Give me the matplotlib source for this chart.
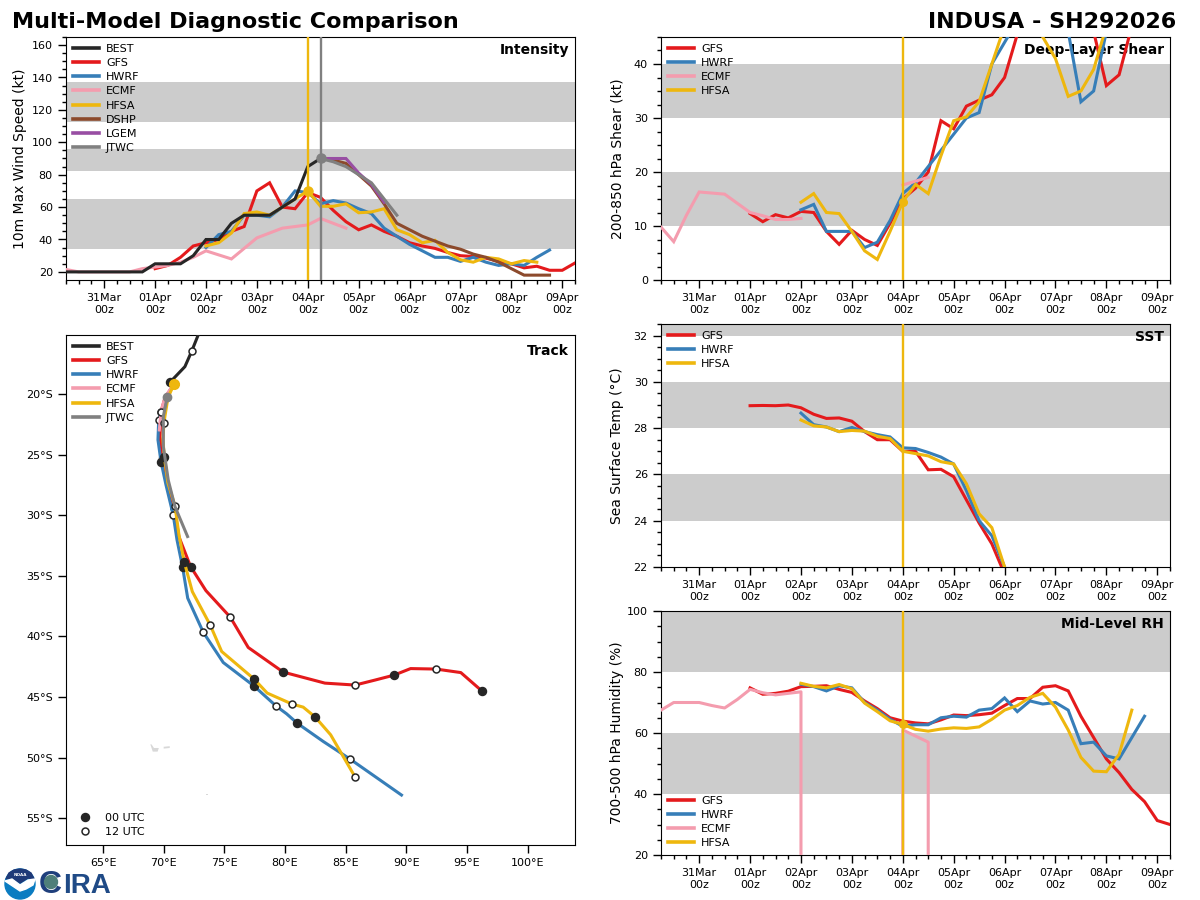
import numpy as np
import matplotlib
matplotlib.use("Agg")
import matplotlib.pyplot as plt
from matplotlib.patches import Circle, Polygon

# -------- Time axis (6-hourly steps, step 0 = 30Mar 06z) --------
day_labels = ['31Mar', '01Apr', '02Apr', '03Apr', '04Apr', '05Apr', '06Apr', '07Apr', '08Apr', '09Apr']
day_steps = [3, 7, 11, 15, 19, 23, 27, 31, 35, 39]
init_step = 19
jtwc_step = 20

# -------- Intensity (kt) --------
vmax_best = [20, 20, 20, 20, 20, 20, 20, 25, 25, 25, 30, 40, 40, 50, 55, 55, 55, 60, 65, 85, 90]
vmax_gfs = [22, 24, 29, 36, 38, 40, 45, 48, 70, 75, 60, 59, 69, 66, 58, 51, 46, 49, 45, 42, 38, 36,
            34.5, 32, 30, 29.5, 28.5, 26.5, 25, 22.5, 23.5, 21, 21, 25.5]
vmax_hwrf = [35, 43, 45, 55, 55, 54, 60, 70, 69, 62, 64, 62.5, 59, 56, 47, 42, 37, 33, 29, 29, 26.5,
             29, 26, 24, 25, 24, 29, 33.5]
vmax_ecmf = [21.5, 20, 20, 20, 20, 20, 22, 23, 24, 26, 29, 33, 30.5, 28, 34.5, 41, 44, 47, 48, 49, 53, 50, 47]
vmax_hfsa = [36, 38, 44, 56, 57, 55, 60, 65, 70, 60.5, 60.5, 62, 56.5, 57, 59, 46, 43, 38, 39.5, 32,
             27.5, 26, 29, 28, 25, 27, 26]
vmax_dshp = [90, 89, 87, 80, 73, 62, 50, 46, 42, 39, 36, 34, 31, 29, 26, 22, 18, 18, 18]
vmax_lgem = [90, 90, 90, 81, 74, 63]
vmax_jtwc = [90, 88, 85, 80, 75, 65, 55]

# -------- Deep-layer shear (kt) --------
shear_gfs = [12.3, 10.8, 12.1, 11.5, 12.7, 12.5, 9, 6.6, 9.2, 7.5, 6.4, 10.5, 15, 17, 20, 29.5, 28,
             32.2, 33.3, 34.3, 37.5, 45.5, 50, 52, 52, 52, 52, 46, 36, 38, 47, 52, 52, 47, 41.5]
shear_hwrf = [13, 14, 9, 9, 9, 6, 7, 11, 16, 18, 21, 24, 27, 30, 31, 40, 44, 48, 52, 52, 50, 46, 33, 35, 46, 50, 52, 52]
shear_ecmf = [9.8, 7.1, 12, 16.3, 16.1, 15.9, 14.2, 12.5, 11.9, 11.2, 11.2, 11.4,
              np.nan, np.nan, np.nan, np.nan, np.nan, np.nan, np.nan, 17.6, 18.3, 19.0]
shear_hfsa = [14.4, 16, 12.5, 12.3, 9, 5.4, 3.8, 9, 14.5, 17.7, 16, 23, 29.5, 30.2, 33, 40, 47, 50, 50, 45,
              41, 34, 35, 39, 47, 50, 50]

# -------- SST (C) --------
sst_gfs = [28.97, 28.98, 28.97, 29.0, 28.88, 28.6, 28.42, 28.44, 28.3, 27.85, 27.5, 27.5, 27.0, 27.0,
           26.2, 26.22, 25.9, 24.9, 23.9, 23.0, 21.7]
sst_hwrf = [28.65, 28.15, 28.05, 27.85, 28.03, 27.85, 27.72, 27.62, 27.15, 27.12, 26.95, 26.75, 26.45,
            25.3, 24.0, 23.35, 22.0]
sst_hfsa = [28.35, 28.1, 28.05, 27.85, 27.9, 27.87, 27.65, 27.55, 27.0, 26.9, 26.8, 26.55, 26.45,
            25.6, 24.3, 23.7, 22.0]

# -------- Mid-level RH (%) --------
rh_gfs = [74.8, 72.7, 73, 73.7, 75.2, 75.3, 75.5, 74.3, 73.3, 70.5, 68, 65, 63.9, 63.3, 63, 64.3, 65.9,
          65.7, 66, 66.5, 69, 71.3, 71.3, 75, 75.5, 73.8, 65.5, 58.5, 51.5, 47, 41.5, 37.5, 31.3, 30]
rh_hwrf = [76, 75.2, 73.8, 75.5, 74.8, 70, 67.5, 64.5, 62.2, 62.7, 62.7, 65, 65.5, 65.2, 67.5, 68, 71.5,
           67, 70.5, 69.5, 70, 67.5, 56.5, 57, 52.5, 51.5, 58.5, 65.5]
rh_ecmf_t = [0, 1, 2, 3, 4, 5, 6, 7, 8, 9, 10, 11, 11, np.nan, 19, 19, 20, 21, 21]
rh_ecmf = [67.5, 70, 70, 70, 69, 68.2, 71, 74.3, 73.2, 72.5, 73, 73.5, 0, np.nan, 0, 61, 59, 57, 0]
rh_hfsa = [76.3, 75.3, 74.8, 75.9, 74.5, 69.8, 67, 64, 62.8, 61.2, 60.6, 61.3, 61.7, 61.5, 62, 64.5, 67.5,
           69, 71.7, 73, 68.5, 61, 52, 47.5, 47.3, 53, 67.5]

# -------- Track (lon E, lat), forecast tracks are 6-hourly from 04Apr 00z --------
best_lon = [73.5, 72.3, 71.75, 70.52, 70.85]
best_lat = [-13.5, -16.5, -17.75, -19.04, -19.18]
gfs_lon = [70.85, 70.11, 69.78, 69.70, 69.94, 70.27, 70.85, 71.26, 72.22, 73.48, 75.49, 76.97, 79.85,
           83.29, 85.78, 87.41, 88.99, 90.35, 92.45, 94.49, 96.24]
gfs_lat = [-19.18, -20.33, -21.46, -23.54, -25.28, -27.34, -29.40, -31.79, -34.24, -36.22, -38.41, -40.91,
           -42.94, -43.85, -44.01, -43.60, -43.19, -42.65, -42.69, -42.98, -44.51]
hwrf_lon = [70.85, 70.35, 69.59, 69.53, 69.78, 70.19, 70.79, 71.10, 71.56, 71.98, 73.26, 74.91, 77.46,
            78.34, 79.28, 80.13, 81.00, 83.15, 85.37, 89.60]
hwrf_lat = [-19.18, -20.08, -22.14, -23.79, -25.58, -27.50, -30.00, -32.04, -34.29, -36.84, -39.65, -42.15,
            -44.10, -44.90, -45.75, -46.38, -47.15, -48.66, -50.12, -53.08]
ecmf_lon = [70.85, 70.11, 69.78, 69.64]
ecmf_lat = [-19.18, -20.25, -21.46, -22.97]
hfsa_lon = [70.85, 70.35, 70.02, 69.94, 70.05, 70.35, 70.93, 71.26, 71.70, 72.36, 73.84, 74.78, 77.46,
            78.53, 80.59, 81.50, 82.49, 83.76, 85.78]
hfsa_lat = [-19.18, -20.33, -22.37, -23.79, -25.17, -27.34, -29.23, -31.62, -33.87, -36.30, -39.07, -41.24,
            -43.52, -44.67, -45.58, -45.83, -46.65, -48.11, -51.60]
jtwc_lon = [70.30, 69.97, 69.97, 70.38, 70.93, 71.97]
jtwc_lat = [-20.22, -21.87, -24.34, -27.12, -29.29, -31.76]

# small islands near the bottom of the map
kerguelen_lon = [68.9, 69.1, 69.5, 69.6, 69.2, 69.0]
kerguelen_lat = [-48.9, -49.5, -49.5, -49.2, -49.2, -48.9]
crozet_lon = [70.0, 70.5, 70.5, 70.0]
crozet_lat = [-49.1, -49.05, -49.2, -49.25]
heard_lon = [73.5, 73.65, 73.65, 73.5]
heard_lat = [-53.0, -53.0, -53.1, -53.1]

# -------- Style --------
c_best = '#262626'
c_gfs = '#e41a1c'
c_hwrf = '#377eb8'
c_ecmf = '#f49cae'
c_hfsa = '#eeb70e'
c_dshp = '#8c4a2c'
c_lgem = '#984ea3'
c_jtwc = '#808080'
band_color = '#cccccc'
lw = 2.2

plt.rcParams['font.family'] = 'DejaVu Sans'
fig = plt.figure(figsize=(12, 9), dpi=100)


def make_axes(left, top, right, bottom):
    return fig.add_axes([left / 1200, 1 - bottom / 900, (right - left) / 1200, (bottom - top) / 900])


def add_legend(ax, handles=None, labels=None, loc='upper left'):
    if handles is None:
        handles, labels = ax.get_legend_handles_labels()
    leg = ax.legend(handles, labels, loc=loc, frameon=False, fontsize=8, handlelength=2.35,
                    handletextpad=0.65, labelspacing=0.38, borderaxespad=0.5, borderpad=0.1)
    for line in leg.get_lines():
        line.set_linewidth(2.6)
    return leg


def series_panel(ax, ylim, major, minor_step, bands, ylabel, title, label_x):
    ax.set_xlim(0, 40)
    ax.set_ylim(*ylim)
    for lo, hi in bands:
        ax.axhspan(lo, hi, color=band_color, lw=0, zorder=0)
    ax.set_xticks(day_steps)
    ax.set_xticks(np.arange(0, 41), minor=True)
    ax.set_xticklabels([d + '\n00z' for d in day_labels])
    ax.set_yticks(major)
    ax.set_yticks(np.arange(major[0], ylim[1] + 0.01, minor_step), minor=True)
    ax.tick_params(labelsize=8, length=6, width=1)
    ax.tick_params(which='minor', length=3, width=1)
    ax.set_ylabel(ylabel, fontsize=10)
    ax.yaxis.set_label_coords(label_x, 0.5)
    ax.text(0.988, 0.975, title, transform=ax.transAxes, ha='right', va='top', fontsize=10, fontweight='bold')
    ax.axvline(init_step, color=c_hfsa, lw=1.7, zorder=6)


def draw(ax, start, values, color, label=None):
    ax.plot(start + np.arange(len(values)), values, color=color, lw=lw, label=label, solid_joinstyle='miter', zorder=3)


# -------- Intensity --------
ax1 = make_axes(66, 37, 575, 280)
series_panel(ax1, (15, 165), list(range(20, 161, 20)), 5, [(34, 65), (82.5, 96), (112.5, 137.5)],
             '10m Max Wind Speed (kt)', 'Intensity', -0.0765)
ax1.axvline(jtwc_step, color=c_jtwc, lw=1.7, zorder=6)
draw(ax1, 7, vmax_gfs, c_gfs, 'GFS')
draw(ax1, 11, vmax_hwrf, c_hwrf, 'HWRF')
draw(ax1, 0, vmax_ecmf, c_ecmf, 'ECMF')
draw(ax1, 11, vmax_hfsa, c_hfsa, 'HFSA')
draw(ax1, 20, vmax_dshp, c_dshp, 'DSHP')
draw(ax1, 20, vmax_lgem, c_lgem, 'LGEM')
draw(ax1, 20, vmax_jtwc, c_jtwc, 'JTWC')
draw(ax1, 0, vmax_best, c_best, 'BEST')
ax1.plot(init_step, vmax_hfsa[8], 'o', color=c_hfsa, ms=6.5, zorder=7)
ax1.plot(jtwc_step, vmax_jtwc[0], 'o', color=c_jtwc, ms=6.5, zorder=7)
h, l = ax1.get_legend_handles_labels()
order = [7, 0, 1, 2, 3, 4, 5, 6]
add_legend(ax1, [h[i] for i in order], [l[i] for i in order])

# -------- Shear --------
ax2 = make_axes(661, 37, 1170, 280)
series_panel(ax2, (0, 45), [0, 10, 20, 30, 40], 2.5, [(10, 20), (30, 40)], '200-850 hPa Shear (kt)', 'Deep-Layer Shear', -0.072)
draw(ax2, 7, shear_gfs, c_gfs, 'GFS')
draw(ax2, 11, shear_hwrf, c_hwrf, 'HWRF')
draw(ax2, 0, shear_ecmf, c_ecmf, 'ECMF')
draw(ax2, 11, shear_hfsa, c_hfsa, 'HFSA')
ax2.plot(init_step, shear_hfsa[8], 'o', color=c_hfsa, ms=5.5, zorder=7)
add_legend(ax2)

# -------- SST --------
ax3 = make_axes(661, 324, 1170, 567)
series_panel(ax3, (22, 32.5), [22, 24, 26, 28, 30, 32], 0.5, [(24, 26), (28, 30), (32, 33)],
             'Sea Surface Temp (°C)', 'SST', -0.072)
draw(ax3, 7, sst_gfs, c_gfs, 'GFS')
draw(ax3, 11, sst_hwrf, c_hwrf, 'HWRF')
draw(ax3, 11, sst_hfsa, c_hfsa, 'HFSA')
add_legend(ax3)

# -------- RH --------
ax4 = make_axes(661, 611, 1170, 855)
series_panel(ax4, (20, 100), [20, 40, 60, 80, 100], 5, [(40, 60), (80, 100)], '700-500 hPa Humidity (%)', 'Mid-Level RH', -0.072)
draw(ax4, 7, rh_gfs, c_gfs, 'GFS')
draw(ax4, 11, rh_hwrf, c_hwrf, 'HWRF')
ax4.plot(rh_ecmf_t, rh_ecmf, color=c_ecmf, lw=lw, label='ECMF', zorder=3)
draw(ax4, 11, rh_hfsa, c_hfsa, 'HFSA')
ax4.plot(init_step, rh_hfsa[8], 'o', color=c_hfsa, ms=5.5, zorder=7)
add_legend(ax4, loc='lower left')

# -------- Track --------
ax5 = make_axes(66, 335, 575, 845)
ax5.set_xlim(61.95, 103.9)
ax5.set_ylim(-57.2, -15.14)
lon_ticks = list(range(65, 101, 5))
lat_ticks = list(range(-55, -19, 5))
ax5.set_xticks(lon_ticks)
ax5.set_xticklabels([f'{x}°E' for x in lon_ticks])
ax5.set_yticks(lat_ticks)
ax5.set_yticklabels([f'{-y}°S' for y in lat_ticks])
ax5.tick_params(labelsize=8, length=6, width=1)
ax5.text(0.988, 0.983, 'Track', transform=ax5.transAxes, ha='right', va='top', fontsize=10, fontweight='bold')
for isl_lon, isl_lat in [(kerguelen_lon, kerguelen_lat), (crozet_lon, crozet_lat), (heard_lon, heard_lat)]:
    ax5.fill(isl_lon, isl_lat, color='#d8d8d8', lw=0, zorder=1)

tracks = [(best_lon, best_lat, c_best, 'BEST'), (gfs_lon, gfs_lat, c_gfs, 'GFS'), (hwrf_lon, hwrf_lat, c_hwrf, 'HWRF'),
          (ecmf_lon, ecmf_lat, c_ecmf, 'ECMF'), (hfsa_lon, hfsa_lat, c_hfsa, 'HFSA'), (jtwc_lon, jtwc_lat, c_jtwc, 'JTWC')]
ms_00 = 5.8
ms_12 = 5
# markers go on top of their own line, later models cover earlier ones
for k, (lon, lat, color, name) in enumerate(tracks):
    ax5.plot(lon, lat, color=color, lw=lw, label=name, zorder=3 + k)
    if name in ('BEST', 'JTWC'):
        continue
    ax5.plot(lon[::4], lat[::4], 'o', color='#262626', ms=ms_00, zorder=3.5 + k)
    ax5.plot(lon[2::4], lat[2::4], 'o', mfc='white', mec='#262626', mew=1.1, ms=ms_12, zorder=3.5 + k)
ax5.plot(best_lon[3], best_lat[3], 'o', color='#262626', ms=ms_00, zorder=3.5)
ax5.plot(best_lon[1], best_lat[1], 'o', mfc='white', mec='#262626', mew=1.1, ms=ms_12, zorder=3.5)
ax5.plot(jtwc_lon[0], jtwc_lat[0], 'o', color=c_jtwc, ms=6, zorder=9)
ax5.plot(hfsa_lon[0], hfsa_lat[0], 'o', color=c_hfsa, ms=7, zorder=10)
leg5 = add_legend(ax5)
ax5.add_artist(leg5)

# second legend for the synoptic-time markers
m1, = ax5.plot([], [], 'o', color='#262626', ms=ms_00, label='00 UTC')
m2, = ax5.plot([], [], 'o', mfc='white', mec='#262626', mew=1.1, ms=ms_12, label='12 UTC')
ax5.legend(handles=[m1, m2], loc='lower left', frameon=False, fontsize=8, labelspacing=0.42, handlelength=2,
           handletextpad=0.8, borderaxespad=0.5, borderpad=0.2)

# -------- Titles --------
fig.text(12 / 1200, 1 - 27.5 / 900, 'Multi-Model Diagnostic Comparison', fontsize=16, fontweight='bold', ha='left', va='baseline')
fig.text(1176 / 1200, 1 - 27.5 / 900, 'INDUSA - SH292026', fontsize=16, fontweight='bold', ha='right', va='baseline')

# -------- Logos --------
logo = fig.add_axes([0, 0, 1, 1], zorder=-1)
logo.set_xlim(0, 1200)
logo.set_ylim(900, 0)
logo.axis('off')
logo.add_patch(Circle((20, 884), 15, color='#0a7cc1'))
logo.add_patch(Polygon([(6, 879), (9, 873), (14, 870), (20, 869), (26, 870), (31, 873), (34, 879), (28, 878), (20, 883), (12, 878)],
                       color='#1f3a78'))
logo.add_patch(Polygon([(5, 881), (12, 879), (20, 885), (28, 880), (35, 879), (33, 885), (26, 889), (20, 891), (14, 887)], color='white'))
logo.text(20, 875, 'NOAA', color='white', fontsize=3, ha='center', va='center', fontweight='bold')
logo.text(39, 893, 'C', color='#1f3f7c', fontsize=23, family='Liberation Sans', fontweight='bold', ha='left', va='baseline')
logo.text(63, 893, 'IRA', color='#1f4a86', fontsize=20, family=['Liberation Sans Narrow', 'Liberation Sans'], fontweight='bold', ha='left', va='baseline')
logo.add_patch(Circle((51, 882), 6.5, color='#4f7f7a', zorder=5))

fig.savefig('out.png', dpi=100)
